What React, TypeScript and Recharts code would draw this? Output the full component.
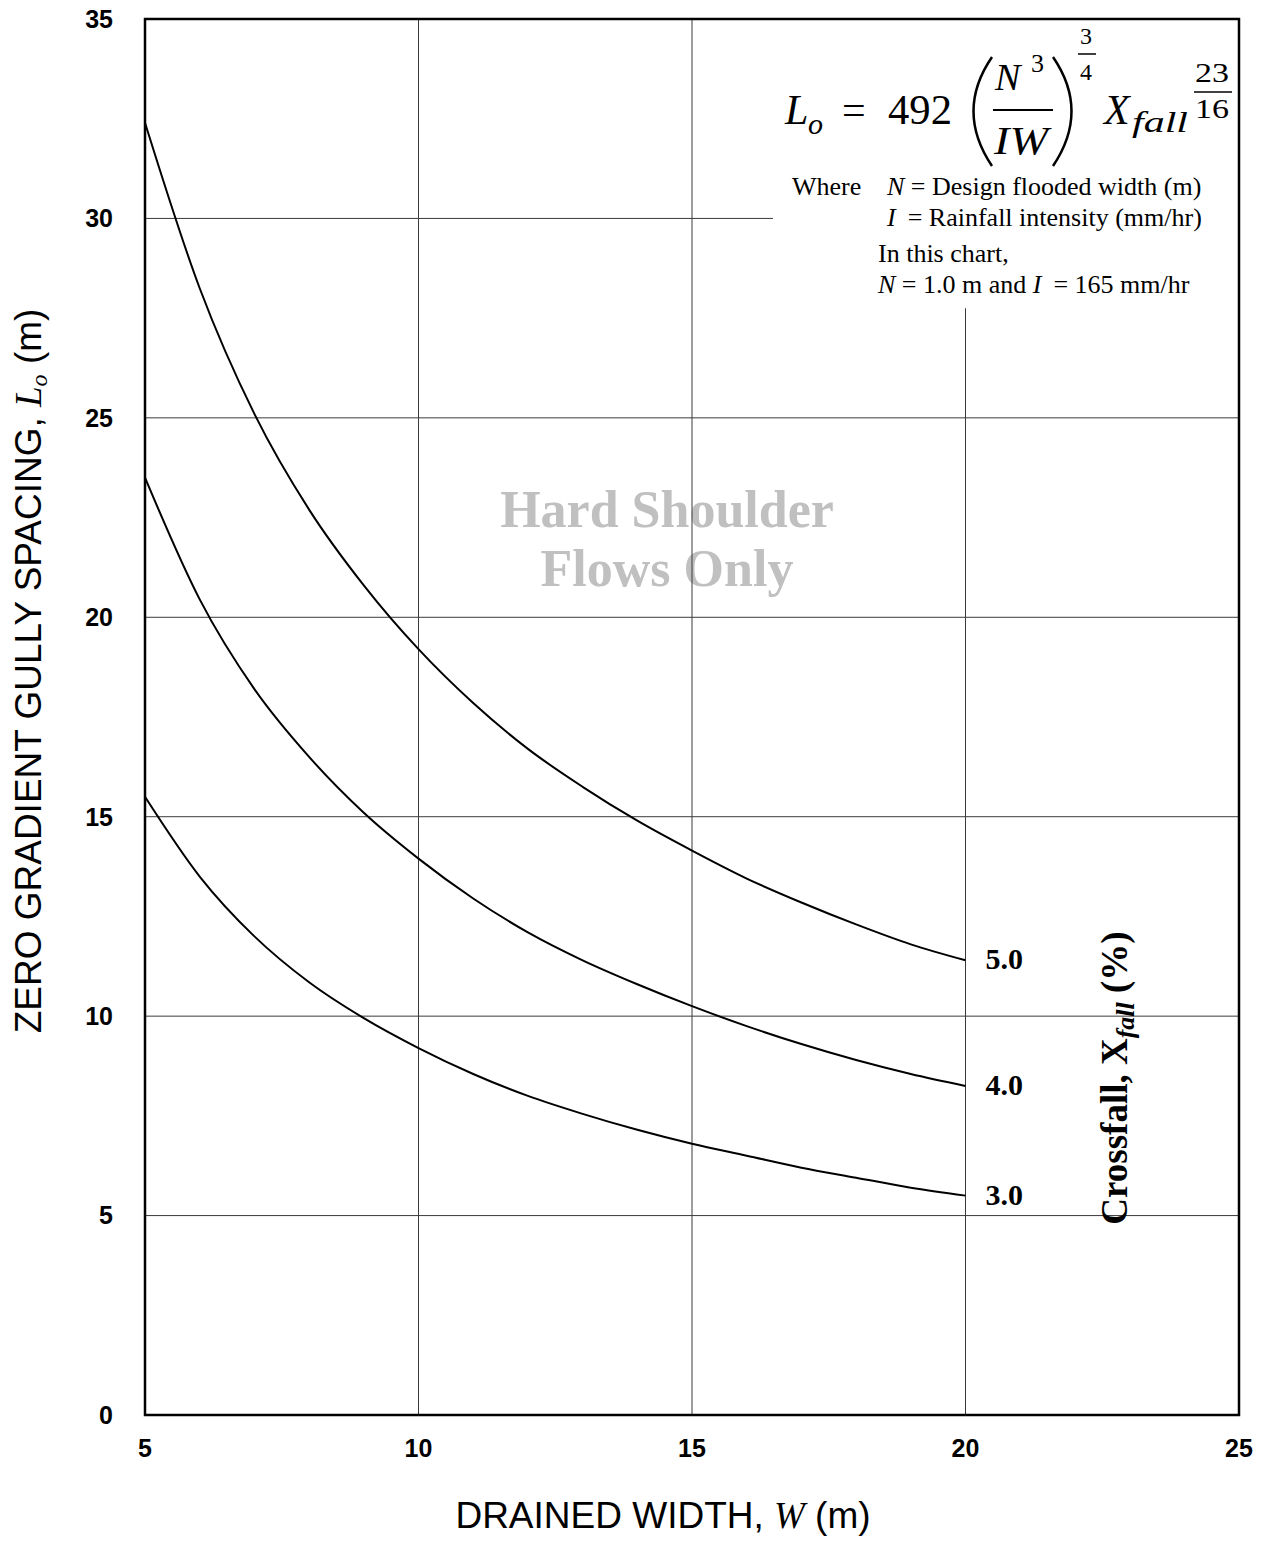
import React from 'react';
import {
  LineChart,
  Line,
  XAxis,
  YAxis,
  CartesianGrid,
  ReferenceArea,
} from 'recharts';

/* Zero gradient gully spacing vs drained width, one curve per crossfall */

const widths = [5, 6, 7, 8, 9, 10, 11, 12, 13, 14, 15, 16, 17, 18, 19, 20];
const crossfall50 = [32.4, 28.25, 25.1, 22.7, 20.8, 19.2, 17.85, 16.7, 15.75, 14.9, 14.15, 13.45, 12.85, 12.3, 11.8, 11.4];
const crossfall40 = [23.5, 20.45, 18.2, 16.5, 15.1, 13.95, 12.95, 12.1, 11.4, 10.8, 10.25, 9.75, 9.3, 8.9, 8.55, 8.25];
const crossfall30 = [15.5, 13.5, 12.0, 10.85, 9.95, 9.2, 8.55, 8.0, 7.55, 7.15, 6.8, 6.5, 6.2, 5.95, 5.7, 5.5];

const xTicks = [5, 10, 15, 20, 25];
const yTicks = [0, 5, 10, 15, 20, 25, 30, 35];

const SERIES = [
  { key: 'x50', label: '5.0' },
  { key: 'x40', label: '4.0' },
  { key: 'x30', label: '3.0' },
];

const data = widths.map((w, i) => ({
  w,
  x50: crossfall50[i],
  x40: crossfall40[i],
  x30: crossfall30[i],
}));

const SANS = '"Liberation Sans", Arial, sans-serif';
const SERIF = '"Liberation Serif", "Times New Roman", serif';

const tickStyle = { fill: '#000', fontSize: 25, fontWeight: 700, fontFamily: SANS };

// curve name written just right of the last point
const endLabel = (text: string) => (props: any) => {
  const { x, y, index } = props;
  if (index !== widths.length - 1) return <g />;
  return (
    <text
      x={x + 20}
      y={y + 9}
      fontFamily={SERIF}
      fontWeight={700}
      fontSize={30}
      fill="#000"
    >
      {text}
    </text>
  );
};

const Overlay: React.FC = () => (
  <svg
    width={1266}
    height={1542}
    style={{ position: 'absolute', left: 0, top: 0, pointerEvents: 'none' }}
  >
    {/* formula */}
    <g fontFamily={SERIF} fill="#000">
      <text x={785} y={124} fontSize={42} fontStyle="italic">L</text>
      <text x={808} y={134} fontSize={30} fontStyle="italic">o</text>
      <text x={842} y={124} fontSize={42}>=</text>
      <text x={888} y={124} fontSize={42} textLength={64} lengthAdjust="spacingAndGlyphs">492</text>
      <path d="M 992 57 Q 955 111 992 166" stroke="#000" strokeWidth={2.5} fill="none" />
      <text x={995} y={90} fontSize={38} fontStyle="italic">N</text>
      <text x={1031} y={72} fontSize={26}>3</text>
      <line x1={993} y1={110} x2={1053} y2={110} stroke="#000" strokeWidth={2} />
      <text x={994} y={154} fontSize={40} fontStyle="italic" textLength={54} lengthAdjust="spacingAndGlyphs">IW</text>
      <path d="M 1053 57 Q 1090 111 1053 166" stroke="#000" strokeWidth={2.5} fill="none" />
      <text x={1080} y={44} fontSize={24}>3</text>
      <line x1={1078} y1={54} x2={1096} y2={54} stroke="#000" strokeWidth={1.5} />
      <text x={1080} y={80} fontSize={24}>4</text>
      <text x={1104} y={124} fontSize={42} fontStyle="italic">X</text>
      <text x={1132} y={132} fontSize={30} fontStyle="italic" textLength={56} lengthAdjust="spacingAndGlyphs">fall</text>
      <text x={1195} y={82} fontSize={27} textLength={34} lengthAdjust="spacingAndGlyphs">23</text>
      <line x1={1194} y1={92} x2={1232} y2={92} stroke="#000" strokeWidth={1.5} />
      <text x={1195} y={118} fontSize={27} textLength={34} lengthAdjust="spacingAndGlyphs">16</text>
    </g>

    {/* formula notes */}
    <g fontFamily={SERIF} fill="#000" fontSize={26}>
      <text x={792} y={195}>Where</text>
      <text x={887} y={195}>
        <tspan fontStyle="italic">N</tspan> = Design flooded width (m)
      </text>
      <text x={887} y={226}>
        <tspan fontStyle="italic">I</tspan>
        <tspan dx={12}>= Rainfall intensity (mm/hr)</tspan>
      </text>
      <text x={878} y={262}>In this chart,</text>
      <text x={878} y={293}>
        <tspan fontStyle="italic">N</tspan> = 1.0 m and <tspan fontStyle="italic">I</tspan>
        <tspan dx={12}>= 165 mm/hr</tspan>
      </text>
    </g>

    {/* crossfall legend title */}
    <text
      transform="translate(1127, 1078) rotate(-90)"
      textAnchor="middle"
      fontFamily={SERIF}
      fontWeight={700}
      fontSize={37}
      fill="#000"
    >
      Crossfall, X
      <tspan fontStyle="italic" fontSize={26} dy={7}>fall</tspan>
      <tspan dy={-7}> (%)</tspan>
    </text>

    {/* axis titles */}
    <text
      transform="translate(41, 671) rotate(-90)"
      textAnchor="middle"
      fontFamily={SANS}
      fontSize={37}
      fill="#000"
    >
      ZERO GRADIENT GULLY SPACING,{' '}
      <tspan fontFamily={SERIF} fontStyle="italic">L</tspan>
      <tspan fontFamily={SERIF} fontStyle="italic" fontSize={24} dy={6}>o</tspan>
      <tspan dy={-6}> (m)</tspan>
    </text>
    <text
      x={663}
      y={1528}
      textAnchor="middle"
      fontFamily={SANS}
      fontSize={37}
      fill="#000"
    >
      DRAINED WIDTH, <tspan fontFamily={SERIF} fontStyle="italic">W</tspan> (m)
    </text>
  </svg>
);

export default function App() {
  return (
    <div
      style={{
        position: 'absolute',
        left: 0,
        top: 0,
        width: 1266,
        height: 1542,
        background: '#fff',
      }}
    >
      {/* watermark sits under the grid */}
      <div
        style={{
          position: 'absolute',
          left: 467,
          top: 480,
          width: 400,
          textAlign: 'center',
          fontFamily: SERIF,
          fontWeight: 700,
          fontSize: 52,
          lineHeight: '59px',
          color: '#c0c0c0',
        }}
      >
        Hard Shoulder
        <br />
        Flows Only
      </div>

      <div style={{ position: 'absolute', left: 0, top: 0 }}>
        <LineChart
          width={1266}
          height={1542}
          data={data}
          margin={{ top: 19, right: 27, bottom: 0, left: 0 }}
        >
          <CartesianGrid stroke="#3a3a3a" strokeWidth={1} />
          <XAxis
            dataKey="w"
            type="number"
            domain={[5, 25]}
            ticks={xTicks}
            height={127}
            tickLine={false}
            axisLine={false}
            tickSize={0}
            tickMargin={24}
            tick={tickStyle}
            interval={0}
          />
          <YAxis
            type="number"
            domain={[0, 35]}
            ticks={yTicks}
            width={145}
            tickLine={false}
            axisLine={false}
            tickSize={0}
            tickMargin={32}
            tick={tickStyle}
            interval={0}
          />
          {/* white panel behind the formula */}
          <ReferenceArea
            x1={16.48}
            x2={25}
            y1={27.75}
            y2={35}
            fill="#fff"
            fillOpacity={1}
            stroke="none"
            ifOverflow="hidden"
          />
          {/* plot frame */}
          <ReferenceArea
            x1={5}
            x2={25}
            y1={0}
            y2={35}
            fill="none"
            stroke="#000"
            strokeWidth={2.5}
            ifOverflow="visible"
          />
          {SERIES.map((s) => (
            <Line
              key={s.key}
              dataKey={s.key}
              type="monotone"
              stroke="#000"
              strokeWidth={2}
              dot={false}
              label={endLabel(s.label)}
              isAnimationActive={false}
            />
          ))}
        </LineChart>
      </div>

      <Overlay />
    </div>
  );
}
